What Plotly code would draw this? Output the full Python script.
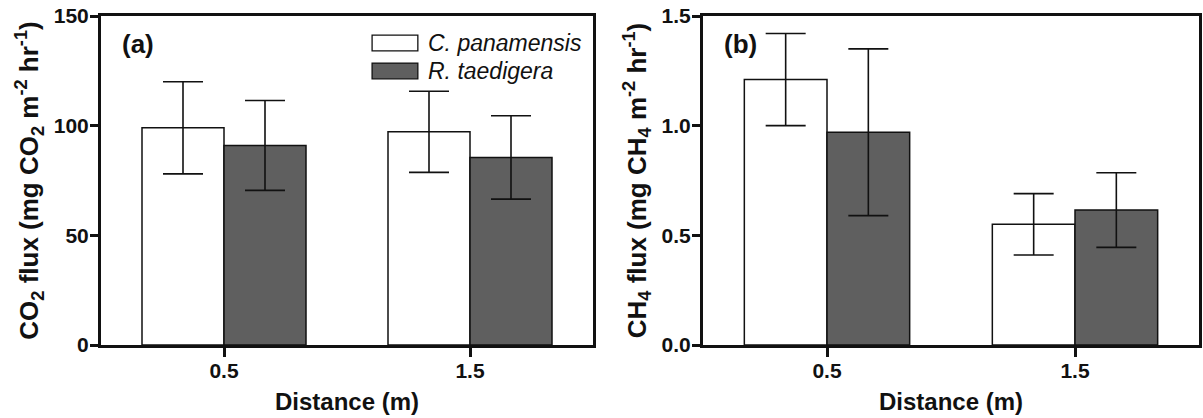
import plotly.graph_objects as go

# Distances (m) along the transect
distances = ["0.5", "1.5"]
species = ["C. panamensis", "R. taedigera"]

# CO2 flux means and error (mg CO2 m-2 hr-1)
co2_cpan = [99.0, 97.2]
co2_cpan_err = [21.0, 18.5]
co2_rtae = [91.0, 85.5]
co2_rtae_err = [20.5, 19.0]

# CH4 flux means and error (mg CH4 m-2 hr-1)
ch4_cpan = [1.21, 0.55]
ch4_cpan_err = [0.21, 0.14]
ch4_rtae = [0.97, 0.615]
ch4_rtae_err = [0.38, 0.17]

FONT = "Liberation Sans, Arial, sans-serif"
WHITE = "#ffffff"
DARK = "#5f5f5f"

fig = go.Figure()


def add_pair(vals_a, err_a, vals_b, err_b, xa, ya):
    for vals, err, fill, name in ((vals_a, err_a, WHITE, species[0]),
                                  (vals_b, err_b, DARK, species[1])):
        fig.add_trace(go.Bar(
            x=distances, y=vals, name=name, xaxis=xa, yaxis=ya,
            marker=dict(color=fill, line=dict(color="#111111", width=1.5)),
            error_y=dict(type="data", array=err, visible=True,
                         color="#111111", thickness=1.6, width=20),
            showlegend=False,
        ))


add_pair(co2_cpan, co2_cpan_err, co2_rtae, co2_rtae_err, "x", "y")
add_pair(ch4_cpan, ch4_cpan_err, ch4_rtae, ch4_rtae_err, "x2", "y2")

W, H = 1203, 418
top_px, bot_px = 16, 345
ydom = [1 - bot_px / H, 1 - top_px / H]

tick_font = dict(family=FONT, size=21, color="#111111", weight="bold")
title_font = dict(family=FONT, size=24, color="#111111", weight="bold")
ytitle_font = dict(family=FONT, size=26, color="#111111", weight="bold")

xcommon = dict(type="category", range=[-0.5, 1.5], showline=True, linewidth=3,
               linecolor="#111111", mirror=True, ticks="outside", ticklen=9,
               tickwidth=3, tickcolor="#111111", tickfont=tick_font,
               ticklabelstandoff=-4,
               showgrid=False, zeroline=False, fixedrange=True, automargin=False,
               title=dict(text="Distance (m)", font=title_font, standoff=12))
ycommon = dict(showline=True, linewidth=3, linecolor="#111111", mirror=True,
               ticks="outside", ticklen=8, tickwidth=3, tickcolor="#111111",
               tickfont=tick_font, ticklabelstandoff=-3,
               showgrid=False, zeroline=False, domain=ydom,
               automargin=False)

fig.update_layout(
    width=W, height=H,
    margin=dict(l=0, r=0, t=0, b=0),
    paper_bgcolor="white", plot_bgcolor="white",
    barmode="group", bargap=1 / 3, bargroupgap=0,
    font=dict(family=FONT, color="#111111"),
    xaxis=dict(xcommon, domain=[101 / W, 593 / W], anchor="y"),
    xaxis2=dict(xcommon, domain=[703 / W, 1199 / W], anchor="y2"),
    yaxis=dict(ycommon, range=[0, 150], tickvals=[0, 50, 100, 150], anchor="x",
               title=dict(text="CO<sub>2</sub> flux (mg CO<sub>2</sub> m<sup>-2</sup> hr<sup>-1</sup>)",
                          font=ytitle_font, standoff=8)),
    yaxis2=dict(ycommon, range=[0, 1.5], tickvals=[0, 0.5, 1.0, 1.5], tickformat=".1f",
                anchor="x2",
                title=dict(text="CH<sub>4</sub> flux (mg CH<sub>4</sub> m<sup>-2</sup> hr<sup>-1</sup>)",
                           font=ytitle_font, standoff=8)),
)

# Panel labels
for xref, label in (("x domain", "(a)"), ("x2 domain", "(b)")):
    fig.add_annotation(x=0.038, y=0.915, xref=xref, yref="y domain", text=label,
                       showarrow=False, xanchor="left", yanchor="middle",
                       font=dict(family=FONT, size=26, color="#111111", weight="bold"))

# Legend drawn inside panel (a)
legend_rows = [(species[0], WHITE, 0.918), (species[1], DARK, 0.833)]
for name, fill, yc in legend_rows:
    fig.add_shape(type="rect", xref="x domain", yref="y domain",
                  x0=0.551, x1=0.644, y0=yc - 0.024, y1=yc + 0.024,
                  fillcolor=fill, line=dict(color="#111111", width=1.3))
    fig.add_annotation(x=0.66, y=yc, xref="x domain", yref="y domain",
                       text=f"<i>{name}</i>", showarrow=False, xanchor="left",
                       yanchor="middle",
                       font=dict(family=FONT, size=23, color="#111111"))

fig.write_html("out.html")
